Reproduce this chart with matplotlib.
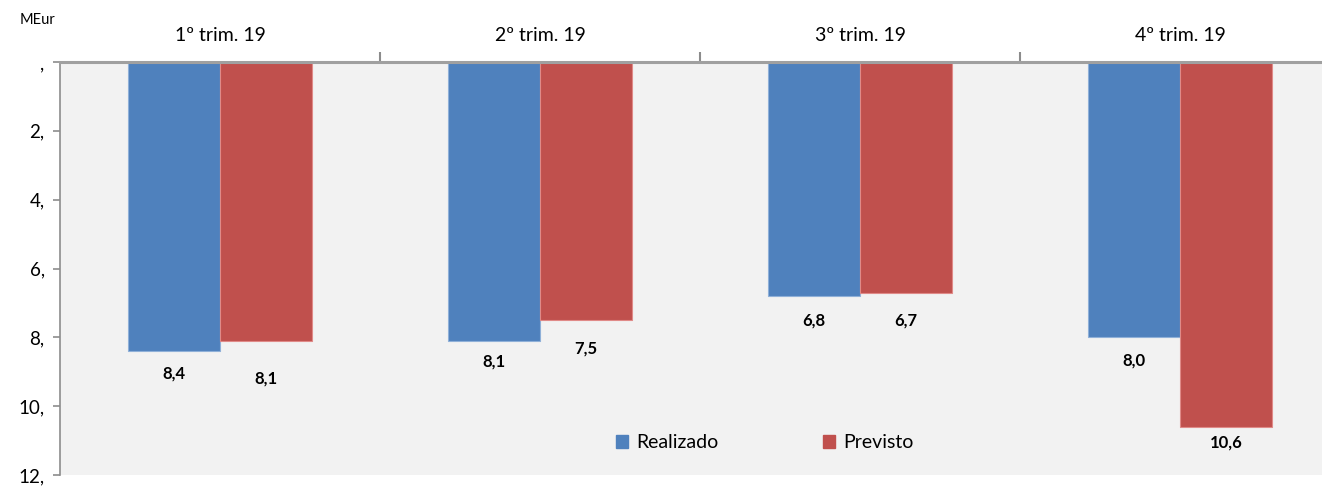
import numpy as np
import matplotlib.pyplot as plt
from matplotlib.patches import Patch

plt.rcParams['font.family'] = ['Lato', 'DejaVu Sans']

# quarterly figures, MEur
quarters = ["1º trim. 19", "2º trim. 19", "3º trim. 19", "4º trim. 19"]
realizado = [8.4, 8.1, 6.8, 8.0]
previsto = [8.1, 7.5, 6.7, 10.6]
y_ticks = [0, 2, 4, 6, 8, 10, 12]
y_ticklabels = [",", "2,", "4,", "6,", "8,", "10,", "12,"]

# distance (px) of each value label below its bar end
gap_real = [22, 21, 24, 23]
gap_prev = [38, 28, 28, 16]

c_real = "#4F81BD"
c_prev = "#C0504D"
grey = "#8c8c8c"

fig = plt.figure(figsize=(13.22, 4.88), dpi=100)
W, H = 1322, 488
ax = fig.add_axes([60 / W, 13 / H, 1280 / W, 413 / H])
ax.set_facecolor("#f2f2f2")

x = np.arange(len(quarters))
bw = 0.286
b1 = ax.bar(x - bw / 2, realizado, bw, color=c_real, edgecolor="#8fb0d8", linewidth=0.8)
b2 = ax.bar(x + bw / 2, previsto, bw, color=c_prev, edgecolor="#e08a88", linewidth=0.8)

for xi, v, g in zip(x - bw / 2, realizado, gap_real):
    ax.annotate(f"{v:.1f}".replace(".", ","), (xi, v), xytext=(0, -g),
                textcoords="offset pixels", ha="center", va="center",
                fontsize=12, fontweight="bold", color="black")
for xi, v, g in zip(x + bw / 2, previsto, gap_prev):
    ax.annotate(f"{v:.1f}".replace(".", ","), (xi, v), xytext=(0, -g),
                textcoords="offset pixels", ha="center", va="center",
                fontsize=12, fontweight="bold", color="black")

ax.set_xlim(-0.5, len(quarters) - 0.5)
ax.set_ylim(12, 0)

ax.set_yticks(y_ticks)
ax.set_yticklabels(y_ticklabels, fontsize=13.5)
ax.tick_params(axis="y", direction="out", length=5, width=1.2, color=grey, pad=6)

# category names sit above the top axis, separator ticks between them
ax.xaxis.tick_top()
ax.set_xticks(x[:-1] + 0.5)
ax.set_xticklabels([])
ax.set_xticks(x, minor=True)
ax.set_xticklabels(quarters, minor=True, fontsize=14)
ax.tick_params(axis="x", which="major", direction="out", length=7, width=1.5, color=grey)
ax.tick_params(axis="x", which="minor", length=0, pad=13)

for s in ["right", "bottom"]:
    ax.spines[s].set_visible(False)
ax.spines["top"].set_color("#a0a0a0")
ax.spines["top"].set_linewidth(2.2)
ax.spines["left"].set_color(grey)
ax.spines["left"].set_linewidth(1.2)

fig.text(20 / W, 1 - 20 / H, "MEur", fontsize=10.5, va="center", ha="left")

handles = [Patch(color=c_real, label="Realizado"), Patch(color=c_prev, label="Previsto")]
fig.legend(handles=handles, loc="center", bbox_to_anchor=(765 / W, 1 - 443 / H),
           ncol=2, frameon=False, fontsize=14, handlelength=0.62, handleheight=0.62,
           handletextpad=0.4, columnspacing=5.4)

fig.savefig("out.png", dpi=100)
